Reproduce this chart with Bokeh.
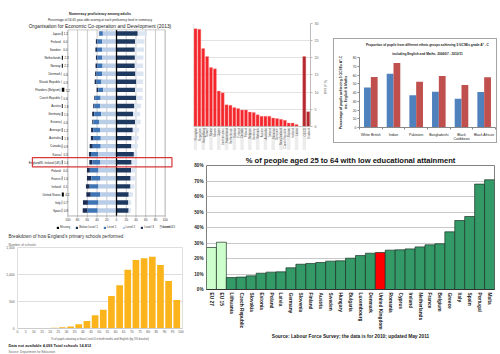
import math
from bokeh.plotting import figure
from bokeh.models import (Range1d, FixedTicker, Title, Legend, LegendItem, Spacer,
                          NumeralTickFormatter, FactorRange)
from bokeh.layouts import row, column
from bokeh.embed import file_html
from bokeh.resources import INLINE
from bokeh.core.properties import value

FONT = "Liberation Sans"

# ---------------- data: numeracy proficiency ----------------
countries = ["Japan", "Finland", "Sweden", "Netherlands", "Norway", "Denmark", "Slovak Republic",
             "Flanders (Belgium)", "Czech Republic", "Austria", "Germany", "Estonia", "Average",
             "Australia", "Canada", "Korea", "England/N. Ireland (UK)", "Poland", "France", "Ireland",
             "United States", "Italy", "Spain"]
missing = [1.2, 0.0, 0.0, 2.3, 2.2, 0.4, 0.3, 5.2, 0.6, 1.8, 1.5, 0.4, 1.2, 1.9, 0.9, 0.3, 1.4,
           0.0, 1.0, 0.1, 4.2, 0.7, 0.8]
below1 = [1.2, 3.0, 3.5, 2.8, 3.3, 3.0, 3.9, 3.5, 1.7, 2.6, 4.4, 2.4, 4.8, 5.6, 6.4, 4.2, 6.4,
          5.9, 9.0, 7.8, 9.1, 10.2, 9.8]
level1 = [7.0, 9.8, 10.8, 10.5, 11.2, 11.3, 10.0, 10.0, 11.3, 11.7, 14.0, 11.6, 14.0, 14.7, 16.3,
          14.7, 16.4, 17.8, 18.7, 18.0, 19.4, 21.7, 21.0]
level2 = [28.0, 29.6, 29.2, 29.0, 28.6, 29.7, 31.0, 27.4, 32.7, 33.6, 31.6, 35.9, 33.5, 32.4, 32.5,
          37.8, 33.1, 37.0, 33.0, 37.1, 33.5, 37.1, 38.7]
level3 = [43.7, 38.4, 37.6, 37.8, 37.6, 38.9, 40.8, 38.1, 40.6, 36.7, 34.3, 38.3, 33.5, 31.2, 30.6,
          35.7, 31.0, 30.0, 29.0, 28.7, 25.1, 24.4, 24.9]
level45 = [18.9, 19.2, 18.9, 17.6, 17.1, 16.7, 14.0, 15.8, 12.9, 13.6, 14.2, 11.4, 13.0, 14.3, 13.3,
           7.3, 11.7, 9.3, 9.3, 8.3, 8.7, 5.9, 4.8]
numeracy_ticks = [-100, -80, -60, -40, -20, 0, 20, 40, 60, 80, 100]
highlight_country = "England/N. Ireland (UK)"

# ---------------- data: primary schools ----------------
school_bins = [2.5, 7.5, 12.5, 17.5, 22.5, 27.5, 32.5, 37.5, 42.5, 47.5, 52.5, 57.5, 62.5, 67.5,
               72.5, 77.5, 82.5, 87.5, 92.5, 97.5]
school_counts = [0, 0, 0, 2, 12, 25, 38, 80, 140, 245, 348, 600, 800, 1088, 1268, 1300, 1330,
                 1175, 878, 528]

# ---------------- data: red bar chart ----------------
red_labels = ["Shanghai", "Singapore", "Hong Kong", "Taiwan", "Korea", "Macao", "Japan",
              "Liechtenstein", "Switzerland", "Netherlands", "Estonia", "Finland", "Canada",
              "Poland", "Belgium", "Germany", "Vietnam", "Austria", "Australia", "Ireland",
              "Slovenia", "Denmark", "New Zealand", "Czech Republic", "France", "Iceland", "Latvia"]
red_values = [28.5, 28.3, 22.7, 20.4, 17.2, 16.8, 10.3, 9.8, 6.3, 6.2, 5.5, 5.2, 4.8, 4.8, 4.2,
              4.1, 3.4, 3.0, 3.0, 3.0, 2.5, 2.3, 2.1, 1.8, 1.0, 1.0, 0.6]
dark_labels = ["OECD", "England"]
dark_values = [20.4, 4.3]

# ---------------- data: ethnic groups ----------------
ethnic_groups = ["White British", "Indian", "Pakistani", "Bangladeshi", "Black\nCaribbean", "Black African"]
gcse_2006 = [45.6, 61.5, 36.8, 41.0, 33.0, 40.7]
gcse_2010 = [57.8, 73.8, 52.3, 59.0, 48.5, 57.4]

# ---------------- data: low educational attainment ----------------
edu_countries = ["EU 27", "EU 15", "Lithuania", "Czech Republic", "Slovakia", "Estonia", "Poland",
                 "Latvia", "Germany", "Slovenia", "Finland", "Austria", "Sweden", "Hungary",
                 "Bulgaria", "Luxembourg", "Denmark", "United Kingdom", "Romania", "Cyprus",
                 "Ireland", "Netherlands", "France", "Belgium", "Greece", "Italy", "Spain",
                 "Portugal", "Malta"]
edu_values = [27.1, 30.5, 7.7, 8.0, 8.8, 10.5, 11.2, 11.4, 14.0, 16.3, 16.8, 17.4, 18.3, 18.5,
              20.2, 21.9, 23.4, 23.9, 25.4, 25.6, 26.2, 27.5, 28.8, 29.5, 37.2, 44.5, 47.1,
              68.0, 70.8]
edu_ticks = [0, 10, 20, 30, 40, 50, 60, 70, 80]


def make_fig(**kw):
    p = figure(output_backend="svg", toolbar_location=None, **kw)
    p.border_fill_color = "white"
    p.background_fill_color = "white"
    return p


def no_ticks(axis):
    axis.major_tick_in = 0
    axis.major_tick_out = 0
    axis.minor_tick_in = 0
    axis.minor_tick_out = 0
    axis.major_tick_line_color = None
    axis.minor_tick_line_color = None


# ================= numeracy chart =================
C_MISS, C_B1, C_L1, C_L2, C_L3, C_L45 = "#000000", "#1b2d52", "#3f74b5", "#b9cde7", "#1e3960", "#dce6f3"
n = len(countries)
ys = [n - 1 - i for i in range(n)]
BOX_B, BOX_T = -0.68, 22.47
pn = make_fig(width=190, height=229, x_range=Range1d(-203.6, 135.7), y_range=Range1d(-2.36, 22.5),
              x_axis_type=None, y_axis_type=None, min_border_left=0, min_border_right=0,
              min_border_top=29, min_border_bottom=0, outline_line_color=None)
pn.grid.visible = False
grid_x = [t for t in numeracy_ticks if t not in (-100, 0, 100)]
pn.segment(x0=grid_x, y0=BOX_B, x1=grid_x, y1=BOX_T, line_color="#b5b5b5", line_width=0.7)

neg2 = [-v for v in level2]
neg1 = [-(a + b) for a, b in zip(level2, level1)]
neg0 = [-(a + b + c) for a, b, c in zip(level2, level1, below1)]
pos45 = [a + b for a, b in zip(level3, level45)]
bh = 0.55
r_b1 = pn.hbar(y=ys, left=neg0, right=neg1, height=bh, fill_color=C_B1, line_color=None)
r_l1 = pn.hbar(y=ys, left=neg1, right=neg2, height=bh, fill_color=C_L1, line_color=None)
r_l2 = pn.hbar(y=ys, left=neg2, right=0, height=bh, fill_color=C_L2, line_color=None)
r_l3 = pn.hbar(y=ys, left=0, right=level3, height=bh, fill_color=C_L3, line_color=None)
r_l45 = pn.hbar(y=ys, left=level3, right=pos45, height=bh, fill_color=C_L45, line_color=None)
pn.segment(x0=0, y0=BOX_B, x1=0, y1=BOX_T, line_color="black", line_width=1.3)
pn.quad(left=-100, right=100, bottom=BOX_B, top=BOX_T, fill_color=None, line_color="#9a9a9a", line_width=0.8)

miss_left = -112.5
r_miss = pn.hbar(y=ys, left=miss_left, right=[miss_left + m for m in missing], height=0.5,
                 fill_color=C_MISS, line_color=None)
pn.text(x=[miss_left + m + 3.0 for m in missing], y=ys, text=[f"{m:.1f}" for m in missing],
        text_font=value(FONT), text_font_size="3px", text_align="left", text_baseline="middle",
        text_color="#222")
pn.text(x=-115, y=ys, text=countries, text_font=value(FONT), text_font_size="3px",
        text_align="right", text_baseline="middle", text_color="#222")
hy = ys[countries.index(highlight_country)]
pn.quad(left=-173, right=114, bottom=hy - 0.58, top=hy + 0.58, fill_color=None,
        line_color="#d8383a", line_width=1.2)

# x tick labels of the numeracy axis (absolute percentages on both sides)
pn.segment(x0=numeracy_ticks, y0=BOX_B, x1=numeracy_ticks, y1=BOX_B - 0.2, line_color="#999", line_width=0.6)
pn.text(x=numeracy_ticks, y=-1.15, text=[str(abs(t)) for t in numeracy_ticks], text_font=value(FONT),
        text_font_size="3.2px", text_align="center", text_baseline="middle", text_color="#333")
pn.text(x=[100], y=[-2.0], text=["Percent"], text_font=value(FONT), text_font_size="3.2px",
        text_align="center", text_baseline="middle", text_color="#333")

leg = Legend(items=[LegendItem(label="Missing", renderers=[r_miss]),
                    LegendItem(label="Below Level 1", renderers=[r_b1]),
                    LegendItem(label="Level 1", renderers=[r_l1]),
                    LegendItem(label="Level 2", renderers=[r_l2]),
                    LegendItem(label="Level 3", renderers=[r_l3]),
                    LegendItem(label="Level 4/5", renderers=[r_l45])],
             orientation="horizontal", location=(39, 0), label_text_font=FONT,
             label_text_font_size="3px", glyph_width=3, glyph_height=3, label_standoff=1,
             label_width=0, spacing=5, padding=0, margin=0, border_line_alpha=0,
             background_fill_alpha=0, label_height=4, label_text_color="#333")
pn.add_layout(leg)

pn.add_layout(Title(text="Organisation for Economic Co-operation and Development (2013)", align="center",
                    text_font=FONT, text_font_size="4.9px", text_font_style="normal",
                    text_color="#222", standoff=1), "above")
pn.add_layout(Title(text="Percentage of 16-65 year-olds scoring at each proficiency level in numeracy",
                    align="center", text_font=FONT, text_font_size="3.1px", text_font_style="normal",
                    text_color="#222", standoff=0), "above")
pn.add_layout(Title(text="Numeracy proficiency among adults", align="center", text_font=FONT,
                    text_font_size="3.6px", text_font_style="bold", text_color="#222", standoff=2), "above")

# ================= primary schools chart =================
ps = make_fig(width=190, height=125, x_range=Range1d(0, 101), y_range=Range1d(0, 1500),
              min_border_left=17, min_border_right=8, min_border_top=18, min_border_bottom=0,
              outline_line_color="#dedede")
ps.vbar(x=school_bins, top=school_counts, width=4.1, fill_color="#fbb41c", line_color=None)
ps.xgrid.visible = False
ps.ygrid.ticker = FixedTicker(ticks=[0, 500, 1000, 1500])
ps.ygrid.grid_line_color = "#dedede"
ya = ps.yaxis[0]
ya.ticker = FixedTicker(ticks=[0, 500, 1000, 1500])
ya.formatter = NumeralTickFormatter(format="0,0")
ya.axis_line_color = None
no_ticks(ya)
ya.major_label_text_font = FONT
ya.major_label_text_font_size = "3.3px"
ya.major_label_text_color = "#555"
ya.major_label_standoff = 3
xa = ps.xaxis[0]
xa.ticker = FixedTicker(ticks=list(range(0, 101, 5)))
xa.axis_line_color = "#cccccc"
no_ticks(xa)
xa.major_label_text_font = FONT
xa.major_label_text_font_size = "3.3px"
xa.major_label_text_color = "#555"
xa.major_label_standoff = 1
xa.axis_label = "% of pupils attaining at least Level 4 in both maths and English (by 5% bracket)"
xa.axis_label_text_font = FONT
xa.axis_label_text_font_size = "2.8px"
xa.axis_label_text_font_style = "normal"
xa.axis_label_text_color = "#555"
xa.axis_label_standoff = 1
ps.add_layout(Title(text="Number of schools", align="left", offset=-9, text_font=FONT,
                    text_font_size="3.3px", text_font_style="normal", text_color="#666",
                    standoff=1), "above")
ps.add_layout(Title(text="Breakdown of how England's primary schools performed", align="left",
                    offset=-9, text_font=FONT, text_font_size="4.6px", text_font_style="normal",
                    text_color="#333", standoff=3), "above")
ps.add_layout(Title(text="Data not available 4,099  Total schools 14,812", align="left", offset=-9,
                    text_font=FONT, text_font_size="3.9px", text_font_style="bold",
                    text_color="#222", standoff=0, vertical_align="top"), "below")
ps.add_layout(Title(text="Source: Department for Education", align="left", offset=-9,
                    text_font=FONT, text_font_size="3.1px", text_font_style="normal",
                    text_color="#666", standoff=0, vertical_align="top"), "below")

# ================= red bar chart =================
red_x = list(range(len(red_values)))
dark_x = [len(red_values) + 1, len(red_values) + 2]
pr = make_fig(width=140, height=150, x_range=Range1d(-0.5, 29.6), y_range=Range1d(-7.0, 30),
              y_axis_location="right", min_border_left=3, min_border_right=19, min_border_top=23,
              min_border_bottom=0, outline_line_color=None)
pr.xaxis.visible = False
pr.xgrid.visible = False
pr.ygrid.ticker = FixedTicker(ticks=[5, 10, 15, 20, 25, 30])
pr.ygrid.grid_line_color = "#e2e2e2"
stripe_x = [x for x in red_x + dark_x if (x % 2 == 0)]
pr.vbar(x=stripe_x, bottom=-6.9, top=-0.3, width=0.9, fill_color="#ececec", line_color=None)
pr.segment(x0=-0.45, y0=0, x1=-0.45, y1=30, line_color="#cfcfcf", line_width=0.8)
pr.vbar(x=red_x, top=red_values, width=0.8, fill_color="#f2262b", line_color="#ff9a9a", line_width=0.4)
pr.vbar(x=dark_x, top=dark_values, width=0.8, fill_color="#b3262b", line_color="#d88", line_width=0.4)
pr.segment(x0=-0.5, y0=0, x1=29.6, y1=0, line_color="#bbbbbb", line_width=0.8)
pr.text(x=red_x + dark_x, y=-0.5, text=red_labels + dark_labels, angle=math.pi / 2,
        text_font=value(FONT), text_font_size="2.9px", text_align="right", text_baseline="middle",
        text_color="#555")
ra = pr.yaxis[0]
ra.ticker = FixedTicker(ticks=[0, 5, 10, 15, 20, 25, 30])
ra.bounds = (0, 30)
ra.axis_line_color = "#bbbbbb"
ra.major_tick_line_color = "#bbbbbb"
ra.major_tick_in = 0
ra.major_tick_out = 2
ra.minor_tick_line_color = None
ra.minor_tick_out = 0
ra.major_label_text_font = FONT
ra.major_label_text_font_size = "3.6px"
ra.major_label_text_color = "#666"
ra.major_label_standoff = 2
ra.axis_label = "% of total"
ra.axis_label_text_font = FONT
ra.axis_label_text_font_size = "3.4px"
ra.axis_label_text_font_style = "normal"
ra.axis_label_text_color = "#666"
ra.axis_label_standoff = 2

# ================= ethnic groups chart =================
pe = make_fig(width=164, height=105, x_range=Range1d(0, 6), y_range=Range1d(0, 80),
              min_border_left=25, min_border_right=3, min_border_top=18, min_border_bottom=14,
              outline_line_color=None)
pe.styles = {"border": "1px solid #a5a5a5"}
pe.grid.visible = False
ex = [i + 0.5 for i in range(len(ethnic_groups))]
pe.vbar(x=[x - 0.15 for x in ex], top=gcse_2006, width=0.3, fill_color="#4f81bd", line_color=None)
pe.vbar(x=[x + 0.15 for x in ex], top=gcse_2010, width=0.3, fill_color="#c0504d", line_color=None)
ex_ax = pe.xaxis[0]
ex_ax.ticker = FixedTicker(ticks=ex, minor_ticks=list(range(0, 7)))
ex_ax.major_label_overrides = {x: g for x, g in zip(ex, ethnic_groups)}
ex_ax.major_tick_line_color = None
ex_ax.major_tick_out = 0
ex_ax.major_tick_in = 0
ex_ax.minor_tick_in = 0
ex_ax.minor_tick_out = 2
ex_ax.minor_tick_line_color = "#888"
ex_ax.axis_line_color = "#888"
ex_ax.major_label_text_font = FONT
ex_ax.major_label_text_font_size = "3.5px"
ex_ax.major_label_text_color = "#222"
ex_ax.major_label_standoff = 3
ey_ax = pe.yaxis[0]
ey_ax.ticker = FixedTicker(ticks=list(range(0, 81, 10)))
ey_ax.axis_line_color = "#888"
ey_ax.major_tick_line_color = "#888"
ey_ax.major_tick_in = 0
ey_ax.major_tick_out = 2
ey_ax.minor_tick_line_color = None
ey_ax.minor_tick_out = 0
ey_ax.major_label_text_font = FONT
ey_ax.major_label_text_font_size = "3.4px"
ey_ax.major_label_text_color = "#333"
ey_ax.major_label_standoff = 1
ey_ax.axis_label = "Percentage of pupils achieving 5 GCSEs A*-C\ninc. English & Maths"
ey_ax.axis_label_text_font = FONT
ey_ax.axis_label_text_font_size = "3.4px"
ey_ax.axis_label_text_font_style = "bold"
ey_ax.axis_label_text_color = "#222"
ey_ax.axis_label_standoff = 2
pe.add_layout(Title(text="including English and Maths, 2006/07 - 2010/11", align="center", offset=-12,
                    text_font=FONT, text_font_size="3.2px", text_font_style="bold",
                    text_color="#222", standoff=4), "above")
pe.add_layout(Title(text="Proportion of pupils from different ethnic groups achieving 5 GCSEs grade A* - C",
                    align="center", offset=-12, text_font=FONT, text_font_size="3.2px",
                    text_font_style="bold", text_color="#222", standoff=1), "above")

# ================= low educational attainment chart =================
edu_colors = []
for c in edu_countries:
    if c.startswith("EU"):
        edu_colors.append("#ccffcc")
    elif c == "United Kingdom":
        edu_colors.append("#ff0000")
    else:
        edu_colors.append("#339966")
pg = make_fig(width=310, height=204, x_range=FactorRange(factors=edu_countries, range_padding=0),
              y_range=Range1d(0, 80), min_border_left=16, min_border_right=6, min_border_top=15,
              min_border_bottom=65, outline_line_color="#808080")
pg.vbar(x=edu_countries, top=edu_values, width=1.0, fill_color=edu_colors, line_color="#1c3326",
        line_width=0.7)
pg.xgrid.visible = False
pg.ygrid.ticker = FixedTicker(ticks=edu_ticks)
pg.ygrid.grid_line_color = "#c8c8c8"
gy = pg.yaxis[0]
gy.ticker = FixedTicker(ticks=edu_ticks)
gy.major_label_overrides = {t: f"{t}%" for t in edu_ticks}
gy.axis_line_color = None
no_ticks(gy)
gy.major_label_text_font = FONT
gy.major_label_text_font_size = "4.6px"
gy.major_label_text_font_style = "bold"
gy.major_label_text_color = "#222"
gy.major_label_standoff = 3
gx = pg.xaxis[0]
gx.major_label_orientation = "vertical"
gx.axis_line_color = "#333"
no_ticks(gx)
gx.major_label_text_font = FONT
gx.major_label_text_font_size = "4.8px"
gx.major_label_text_font_style = "bold"
gx.major_label_text_color = "#222"
gx.major_label_standoff = 3
pg.add_layout(Title(text="% of people aged 25 to 64 with low educational attainment", align="center",
                    offset=-5, text_font=FONT, text_font_size="7.6px", text_font_style="bold",
                    text_color="#111", standoff=2), "above")
pg.add_layout(Title(text="Source: Labour Force Survey; the data is for 2010; updated May 2011",
                    align="center", offset=-5, text_font=FONT, text_font_size="4.8px",
                    text_font_style="bold", text_color="#222", standoff=2, vertical_align="top"), "below")

# ================= layout =================
ethnic_block = column(Spacer(width=170, height=38), row(Spacer(width=3, height=107), pe))
top_right = row(pr, ethnic_block)
right_col = column(top_right, pg)
left_col = column(pn, ps)
layout = row(left_col, right_col)

open("out.html", "w").write(file_html(layout, INLINE))
